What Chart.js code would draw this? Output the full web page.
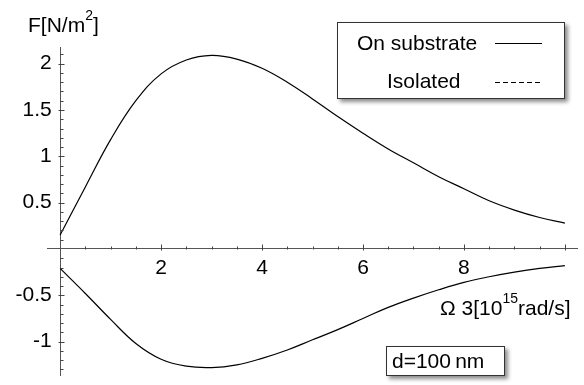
<!DOCTYPE html>
<html>
<head>
<meta charset="utf-8">
<script src="https://cdn.jsdelivr.net/npm/chart.js@4/dist/chart.umd.min.js"></script>
<style>
  body { margin: 0; background: #fff; }
  #wrap { position: relative; width: 584px; height: 385px; font-family: "Liberation Sans", Arial, sans-serif; color: #000; }
  .lbl { position: absolute; font-size: 21px; line-height: 21px; white-space: nowrap; }
  .lbl sup { font-size: 14px; line-height: 0; position: relative; top: -4px; }
  .box { position: absolute; background: #fff; border: 1px solid #333; box-shadow: 3px 3px 4px rgba(0,0,0,0.45); }
  .solid { position: absolute; height: 1px; background: #000; }
  .dash { position: absolute; height: 1px; background: repeating-linear-gradient(to right, #000 0 5px, transparent 5px 8px); }
</style>
</head>
<body>
<div id="wrap">
  <canvas id="chart" width="584" height="385"></canvas>
  <div class="lbl" style="left:28px;top:14px">F[N/m<sup>2</sup>]</div>
  <div class="lbl" style="left:440px;top:297px">&Omega; 3[10<sup>15</sup>rad/s]</div>
  <div class="box" style="left:337px;top:22px;width:226px;height:75px"></div>
  <div class="lbl" style="left:357px;top:32px">On substrate</div>
  <div class="solid" style="left:495px;top:43px;width:47px"></div>
  <div class="lbl" style="left:387px;top:70px">Isolated</div>
  <div class="dash" style="left:495px;top:82px;width:47px"></div>
  <div class="box" style="left:386px;top:346px;width:117px;height:28px"></div>
  <div class="lbl" style="left:392px;top:350px">d=100&#8201;nm</div>
</div>
<script>
// frequency (x) and force (y)
const omega = [0, 0.5, 1, 1.5, 2, 2.5, 3, 3.5, 4, 4.5, 5, 5.5, 6, 6.5, 7, 7.5, 8, 8.5, 9, 9.5, 10];
const forceUpper = [0.15, 0.67, 1.18, 1.6, 1.89, 2.04, 2.09, 2.05, 1.95, 1.8, 1.62, 1.43, 1.25, 1.08, 0.93, 0.78, 0.65, 0.52, 0.42, 0.34, 0.28];
const forceLower = [-0.21, -0.48, -0.76, -1.02, -1.19, -1.265, -1.28, -1.25, -1.18, -1.09, -0.98, -0.87, -0.75, -0.63, -0.53, -0.44, -0.36, -0.30, -0.25, -0.21, -0.18];

const xTicks = [2, 4, 6, 8];
const yTicks = [-1, -0.5, 0.5, 1, 1.5, 2];

// small inward tick marks like the original (minor every 0.5 on x, 0.1 on y)
const tickMarks = {
  id: 'tickMarks',
  afterDraw(chart) {
    const { ctx, scales: { x, y } } = chart;
    const x0 = Math.round(x.getPixelForValue(0)) + 0.5;
    const y0 = Math.round(y.getPixelForValue(0)) + 0.5;
    ctx.save();
    ctx.strokeStyle = '#444';
    ctx.lineWidth = 1;
    ctx.beginPath();
    for (let i = 1; i <= 20; i++) {
      const px = Math.round(x.getPixelForValue(i / 2)) + 0.5;
      const major = i % 4 === 0;
      ctx.moveTo(px, y0 + (major ? 1 : 0));
      ctx.lineTo(px, y0 - (major ? 5 : 3));
    }
    for (let i = -13; i <= 21; i++) {
      if (i === 0) continue;
      const py = Math.round(y.getPixelForValue(i / 10)) + 0.5;
      const major = i % 5 === 0;
      ctx.moveTo(x0 - (major ? 2 : 0), py);
      ctx.lineTo(x0 + (major ? 4 : 3), py);
    }
    ctx.stroke();
    ctx.restore();
  }
};

const tickFont = { family: '"Liberation Sans", Arial, sans-serif', size: 21 };
const noPad = (s) => { s.paddingTop = 0; s.paddingBottom = 0; s.paddingLeft = 0; s.paddingRight = 0; };

new Chart(document.getElementById('chart').getContext('2d'), {
  type: 'line',
  data: {
    datasets: [
      {
        label: 'On substrate',
        data: omega.map((w, i) => ({ x: w, y: forceUpper[i] })),
        borderColor: '#000',
        borderWidth: 1.2,
        pointRadius: 0,
        tension: 0.4,
      },
      {
        label: 'Lower branch',
        data: omega.map((w, i) => ({ x: w, y: forceLower[i] })),
        borderColor: '#000',
        borderWidth: 1.2,
        pointRadius: 0,
        tension: 0.4,
      },
    ],
  },
  options: {
    responsive: false,
    animation: false,
    layout: { padding: { left: 47, right: 7, top: 47, bottom: 10 } },
    plugins: { legend: { display: false }, tooltip: { enabled: false } },
    scales: {
      x: {
        type: 'linear',
        min: -0.26,
        max: 10.24,
        position: { y: 0 },
        grid: { display: false, drawTicks: false },
        border: { color: '#555', width: 1 },
        afterBuildTicks: (s) => { s.ticks = xTicks.map((v) => ({ value: v })); },
        afterFit: noPad,
        ticks: { color: '#000', font: tickFont, padding: 7, maxRotation: 0 },
      },
      y: {
        type: 'linear',
        min: -1.36,
        max: 2.18,
        position: { x: 0 },
        grid: { display: false, drawTicks: false },
        border: { color: '#555', width: 1 },
        afterBuildTicks: (s) => { s.ticks = yTicks.map((v) => ({ value: v })); },
        afterFit: noPad,
        ticks: { color: '#000', font: tickFont, callback: (v) => v + '\u2009\u2009' },
      },
    },
  },
  plugins: [tickMarks],
});
</script>
</body>
</html>
